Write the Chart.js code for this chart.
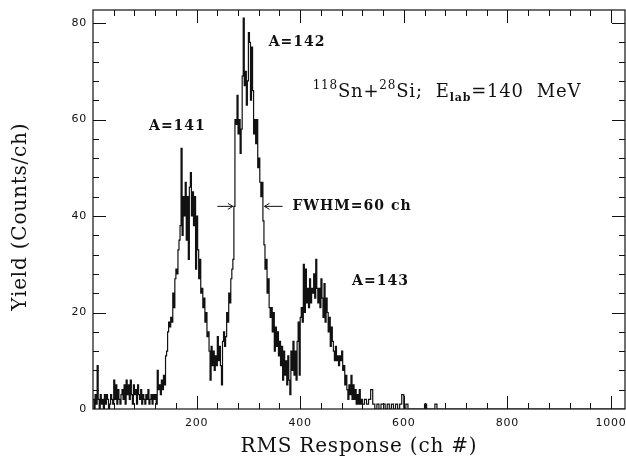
<!DOCTYPE html>
<html>
<head>
<meta charset="utf-8">
<script src="https://cdn.jsdelivr.net/npm/chart.js@4.4.1/dist/chart.umd.min.js"></script>
<style>
  html, body { margin: 0; padding: 0; background: #fff; }
  #wrap { width: 626px; height: 459px; }
</style>
</head>
<body>
<div id="wrap"><canvas id="spectrum" width="626" height="459"></canvas></div>
<script>
// start channel of each bin (2 channels per bin up to 520)
const channels = [
    0, 2, 4, 6, 8, 10, 12, 14, 16, 18,
    20, 22, 24, 26, 28, 30, 32, 34, 36, 38,
    40, 42, 44, 46, 48, 50, 52, 54, 56, 58,
    60, 62, 64, 66, 68, 70, 72, 74, 76, 78,
    80, 82, 84, 86, 88, 90, 92, 94, 96, 98,
    100, 102, 104, 106, 108, 110, 112, 114, 116, 118,
    120, 122, 124, 126, 128, 130, 132, 134, 136, 138,
    140, 142, 144, 146, 148, 150, 152, 154, 156, 158,
    160, 162, 164, 166, 168, 170, 172, 174, 176, 178,
    180, 182, 184, 186, 188, 190, 192, 194, 196, 198,
    200, 202, 204, 206, 208, 210, 212, 214, 216, 218,
    220, 222, 224, 226, 228, 230, 232, 234, 236, 238,
    240, 242, 244, 246, 248, 250, 252, 254, 256, 258,
    260, 262, 264, 266, 268, 270, 272, 274, 276, 278,
    280, 282, 284, 286, 288, 290, 292, 294, 296, 298,
    300, 302, 304, 306, 308, 310, 312, 314, 316, 318,
    320, 322, 324, 326, 328, 330, 332, 334, 336, 338,
    340, 342, 344, 346, 348, 350, 352, 354, 356, 358,
    360, 362, 364, 366, 368, 370, 372, 374, 376, 378,
    380, 382, 384, 386, 388, 390, 392, 394, 396, 398,
    400, 402, 404, 406, 408, 410, 412, 414, 416, 418,
    420, 422, 424, 426, 428, 430, 432, 434, 436, 438,
    440, 442, 444, 446, 448, 450, 452, 454, 456, 458,
    460, 462, 464, 466, 468, 470, 472, 474, 476, 478,
    480, 482, 484, 486, 488, 490, 492, 494, 496, 498,
    500, 502, 504, 506, 508, 510, 512, 514, 516, 518,
    520, 524, 528, 532, 536, 540, 544, 548, 552, 556,
    560, 564, 568, 572, 576, 580, 584, 588, 592, 596,
    600, 604, 608, 640, 644, 660, 664, 1027
];

// yield (counts/ch) in each bin
const counts = [
    2, 0, 3, 1, 9, 2, 0, 3, 1, 2,
    0, 3, 1, 3, 2, 0, 1, 3, 2, 1,
    6, 2, 5, 1, 4, 2, 1, 3, 4, 2,
    5, 1, 6, 3, 5, 2, 6, 3, 1, 5,
    3, 4, 1, 5, 3, 2, 4, 1, 3, 2,
    1, 3, 2, 4, 1, 2, 3, 1, 3, 2,
    3, 1, 8, 4, 5, 3, 6, 4, 7, 5,
    11, 12, 16, 18, 17, 19, 18, 24, 21, 27,
    29, 28, 33, 35, 38, 54, 36, 44, 40, 47,
    35, 44, 31, 46, 49, 40, 45, 38, 44, 29,
    40, 33, 27, 31, 24, 25, 21, 23, 18, 20,
    15, 16, 12, 6, 13, 9, 12, 8, 11, 9,
    15, 10, 13, 9, 5, 14, 16, 13, 15, 20,
    18, 24, 22, 27, 29, 31, 42, 60, 59, 65,
    57, 60, 53, 58, 69, 81, 67, 70, 63, 68,
    78, 76, 64, 75, 66, 57, 60, 55, 60, 50,
    52, 47, 44, 47, 39, 34, 29, 31, 24, 27,
    21, 19, 21, 16, 20, 12, 17, 13, 16, 11,
    14, 9, 13, 6, 12, 7, 10, 5, 11, 6,
    3, 12, 8, 14, 7, 12, 6, 14, 18, 7,
    19, 21, 18, 30, 20, 29, 22, 25, 21, 27,
    22, 25, 24, 28, 23, 31, 25, 22, 25, 21,
    27, 23, 19, 26, 18, 23, 20, 16, 19, 13,
    17, 14, 12, 10, 13, 10, 11, 9, 11, 10,
    12, 8, 9, 5, 7, 4, 2, 5, 3, 7,
    2, 5, 2, 4, 1, 3, 1, 4, 1, 2,
    1, 2, 1, 2, 4, 1, 0, 1, 0, 1,
    1, 0, 1, 0, 1, 0, 1, 0, 1, 3,
    0, 1, 0, 1, 0, 1, 0, 0
];

const xTicks = [200, 400, 600, 800, 1000];
const yTicks = [0, 20, 40, 60, 80];

// peak labels, placed in data units
const peakLabels = ['A=141', 'A=142', 'A=143'];
const peakLabelX = [163, 394, 555];
const peakLabelY = [58.5, 76, 26.5];

const serif = '"DejaVu Serif", "Liberation Serif", serif';
const ink = '#111';

// slightly open lettering like the typeset original
const spacingPlugin = {
    id: 'spacing',
    beforeDraw(chart) { chart.ctx.letterSpacing = '0.8px'; }
};

// box with inward major/minor ticks on all four sides
const framePlugin = {
    id: 'frame',
    afterDraw(chart) {
        const { ctx, chartArea: a, scales: { x, y } } = chart;
        ctx.save();
        ctx.strokeStyle = ink;
        ctx.lineWidth = 1.2;
        ctx.strokeRect(a.left, a.top, a.right - a.left, a.bottom - a.top);
        ctx.lineWidth = 1;
        ctx.beginPath();
        for (let c = 40; c <= 1000; c += 40) {
            const px = Math.round(x.getPixelForValue(c)) + 0.5;
            const len = c % 200 === 0 ? 13 : 6;
            ctx.moveTo(px, a.bottom); ctx.lineTo(px, a.bottom - len);
            ctx.moveTo(px, a.top); ctx.lineTo(px, a.top + len);
        }
        for (let v = 4; v <= 80; v += 4) {
            const py = Math.round(y.getPixelForValue(v)) + 0.5;
            const len = v % 20 === 0 ? 13 : 6;
            ctx.moveTo(a.left, py); ctx.lineTo(a.left + len, py);
            ctx.moveTo(a.right, py); ctx.lineTo(a.right - len, py);
        }
        ctx.stroke();
        ctx.restore();
    }
};

function arrow(ctx, x0, x1, py) {
    const dir = Math.sign(x1 - x0);
    ctx.beginPath();
    ctx.moveTo(x0, py); ctx.lineTo(x1, py);
    ctx.moveTo(x1 - dir * 5, py - 3); ctx.lineTo(x1, py); ctx.lineTo(x1 - dir * 5, py + 3);
    ctx.stroke();
}

// peak names, FWHM marker and the reaction line
const notesPlugin = {
    id: 'notes',
    afterDatasetsDraw(chart) {
        const { ctx, scales: { x, y } } = chart;
        ctx.save();
        ctx.fillStyle = ink;
        ctx.strokeStyle = ink;
        ctx.lineWidth = 1;
        ctx.letterSpacing = '1px';
        ctx.font = 'bold 14px ' + serif;
        ctx.textAlign = 'center';
        ctx.textBaseline = 'middle';
        peakLabels.forEach((t, i) => {
            ctx.fillText(t, x.getPixelForValue(peakLabelX[i]), y.getPixelForValue(peakLabelY[i]));
        });

        // FWHM arrows at half maximum
        const half = y.getPixelForValue(42);
        arrow(ctx, x.getPixelForValue(240), x.getPixelForValue(270), half);
        arrow(ctx, x.getPixelForValue(366), x.getPixelForValue(331), half);
        ctx.textAlign = 'left';
        ctx.fillText('FWHM=60 ch', x.getPixelForValue(385), half);

        // 118Sn+28Si; E_lab=140 MeV
        ctx.textBaseline = 'alphabetic';
        ctx.letterSpacing = '0.8px';
        let px = x.getPixelForValue(424);
        const base = y.getPixelForValue(64.6);
        const parts = [
            ['118', '12px ' + serif, -8],
            ['Sn+', '18px ' + serif, 0],
            ['28', '12px ' + serif, -8],
            ['Si;  E', '18px ' + serif, 0],
            ['lab', 'bold 11px ' + serif, 4],
            ['=140  MeV', '18px ' + serif, 0]
        ];
        parts.forEach(([t, f, dy]) => {
            ctx.font = f;
            ctx.fillText(t, px, base + dy);
            px += ctx.measureText(t).width;
        });
        ctx.restore();
    }
};

new Chart(document.getElementById('spectrum'), {
    type: 'line',
    data: {
        datasets: [{
            data: channels.map((c, i) => ({ x: c, y: counts[i] })),
            stepped: true,
            borderColor: ink,
            borderWidth: 1.2,
            pointRadius: 0,
            fill: false
        }]
    },
    options: {
        responsive: false,
        devicePixelRatio: 1,
        animation: false,
        layout: { padding: { top: 10, right: 1, left: 0, bottom: 0 } },
        plugins: { legend: { display: false }, tooltip: { enabled: false } },
        scales: {
            x: {
                type: 'linear',
                min: 0,
                max: 1027,
                grid: { display: false, drawTicks: false },
                border: { display: false },
                afterBuildTicks: s => { s.ticks = xTicks.map(v => ({ value: v })); },
                ticks: {
                    autoSkip: false,
                    maxRotation: 0,
                    padding: 8,
                    color: ink,
                    font: { family: 'DejaVu Sans', size: 11 },
                    callback: v => String(v)
                },
                title: {
                    display: true,
                    text: 'RMS Response (ch #)',
                    color: ink,
                    font: { family: serif, size: 20 },
                    padding: { top: 0, bottom: 0 }
                },
                afterFit: s => { s.height = 50; s.paddingLeft = 0; s.paddingRight = 0; }
            },
            y: {
                min: 0,
                max: 82.7,
                grid: { display: false, drawTicks: false },
                border: { display: false },
                afterBuildTicks: s => { s.ticks = yTicks.map(v => ({ value: v })); },
                ticks: {
                    padding: 6,
                    color: ink,
                    font: { family: 'DejaVu Sans', size: 11 },
                    callback: v => String(v)
                },
                title: {
                    display: true,
                    // trailing spaces nudge the title a little lower, as in the original
                    text: 'Yield (Counts/ch)  ',
                    color: ink,
                    font: { family: serif, size: 20 },
                    padding: { top: 9, bottom: 0 }
                },
                afterFit: s => { s.width = 93; s.paddingTop = 0; s.paddingBottom = 0; }
            }
        }
    },
    plugins: [spacingPlugin, framePlugin, notesPlugin]
});
</script>
</body>
</html>
